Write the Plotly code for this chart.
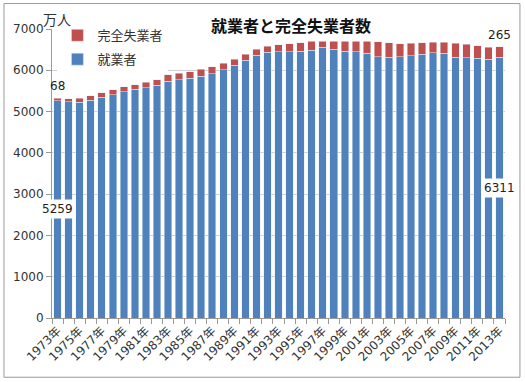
import plotly.graph_objects as go

years = list(range(1973, 2014))
employed = [5259, 5237, 5223, 5271, 5342, 5408, 5479, 5536, 5581, 5638,
            5733, 5766, 5807, 5853, 5911, 6011, 6128, 6249, 6369, 6436,
            6450, 6453, 6457, 6486, 6557, 6514, 6462, 6446, 6412, 6330,
            6316, 6329, 6356, 6389, 6427, 6409, 6314, 6298, 6293, 6270, 6311]
unemployed = [68, 73, 100, 108, 110, 124, 117, 114, 126, 136,
              156, 161, 156, 167, 173, 155, 142, 134, 136, 142,
              166, 192, 210, 225, 230, 279, 317, 320, 340, 359,
              350, 313, 294, 275, 257, 265, 336, 334, 302, 285, 265]
tick_years = years[::2]
tick_labels = [f"{y}年" for y in tick_years]

FONT = "Noto Sans CJK JP, Noto Sans, sans-serif"
NUMFONT = "DejaVu Sans, Noto Sans CJK JP, sans-serif"

fig = go.Figure()
fig.add_trace(go.Bar(x=years, y=employed, name="就業者", marker_color="#4F81BD",
                     legendgroup="a", legendrank=2))
fig.add_trace(go.Bar(x=years, y=unemployed, name="完全失業者", marker_color="#C0504D",
                     legendgroup="b", legendrank=1))

annotations = []
for i in (0, len(years) - 1):
    annotations.append(dict(x=years[i], y=employed[i] / 2, xref="x", yref="y",
                            text=str(employed[i]), showarrow=False, bgcolor="white",
                            font=dict(size=12, color="#222", family=NUMFONT),
                            borderpad=2))
    annotations.append(dict(x=years[i], y=employed[i] + unemployed[i], xref="x", yref="y",
                            text=str(unemployed[i]), showarrow=False,
                            yanchor="bottom", yshift=3,
                            font=dict(size=12, color="#222", family=NUMFONT)))
annotations.append(dict(x=0.528, y=1.0, xref="paper", yref="paper", text="<b>就業者と完全失業者数</b>",
                        showarrow=False, bgcolor="white", borderpad=4, yanchor="middle", yshift=4,
                        font=dict(size=16, color="#111", family=FONT)))
annotations.append(dict(x=-0.024, y=1.0, xref="paper", yref="paper", text="万人",
                        showarrow=False, xanchor="left", yanchor="bottom", yshift=-2,
                        font=dict(size=14, color="#333", family=FONT)))

fig.update_layout(
    width=525, height=382,
    margin=dict(l=52, r=20, t=29, b=64),
    paper_bgcolor="white", plot_bgcolor="white",
    barmode="stack", bargap=0.32,
    font=dict(family=FONT, size=11, color="#333"),
    showlegend=True,
    legend=dict(x=0.012, y=1.03, xanchor="left", yanchor="top", bgcolor="white",
                traceorder="grouped", tracegroupgap=4,
                font=dict(size=13, color="#333", family=FONT),
                itemwidth=30),
    annotations=annotations,
    shapes=[dict(type="rect", xref="paper", yref="paper",
                 x0=-0.106, x1=1.033, y0=-0.205, y1=1.088,
                 line=dict(color="#9a9a9a", width=1), layer="above")],
)
fig.update_xaxes(range=[1972.5, 2013.5], tickvals=tick_years, ticktext=tick_labels,
                 tickangle=-45, ticks="", showgrid=False, zeroline=False,
                 showline=True, linecolor="#9a9a9a", linewidth=1,
                 tickfont=dict(size=12, color="#333", family=NUMFONT),
                 minor=dict(tick0=1972.5, dtick=1, ticks="outside", ticklen=5,
                            tickcolor="#9a9a9a", showgrid=False))
fig.update_yaxes(range=[0, 7000], dtick=1000, tick0=0, showgrid=True, gridcolor="#d0d0d0",
                 zeroline=False, showline=True, linecolor="#9a9a9a", ticks="outside",
                 ticklen=5, tickcolor="#9a9a9a",
                 tickfont=dict(size=12, color="#333", family=NUMFONT))

fig.write_html("out.html", config={"displayModeBar": False},
               post_script="document.body.style.margin='0';")
